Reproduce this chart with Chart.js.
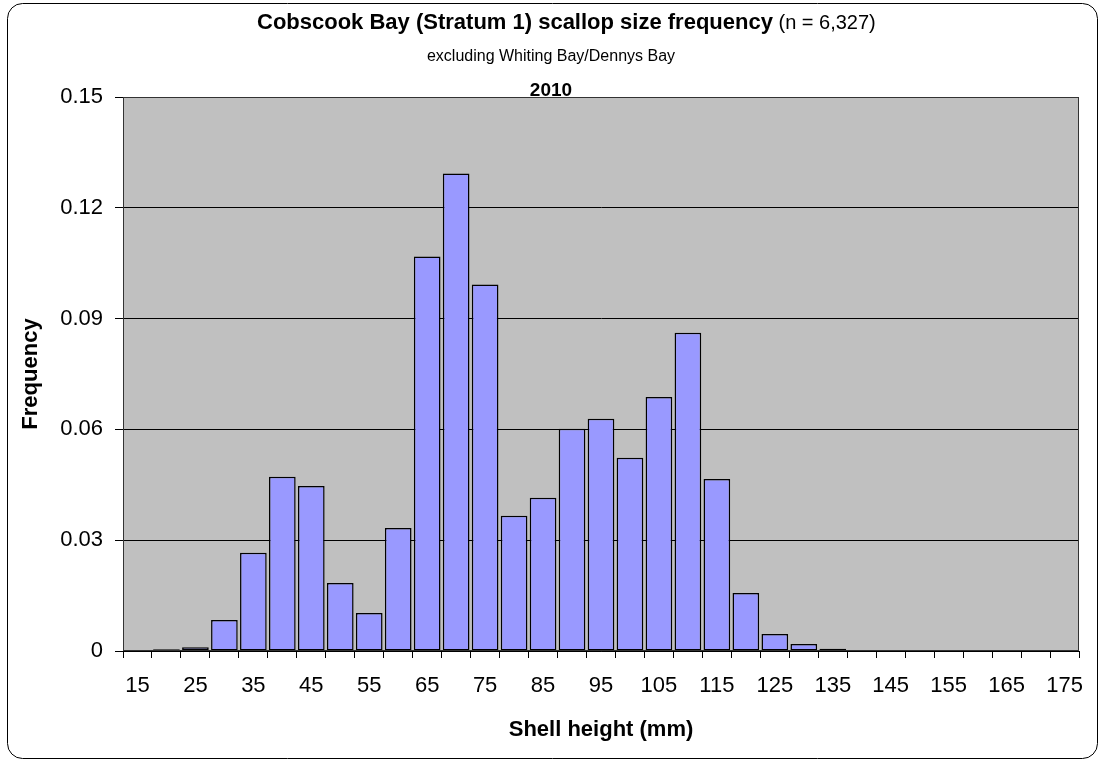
<!DOCTYPE html>
<html>
<head>
<meta charset="utf-8">
<script src="https://cdn.jsdelivr.net/npm/chart.js@4.4.1/dist/chart.umd.min.js"></script>
<style>
  html, body { margin: 0; padding: 0; background: #fff; }
  canvas { display: block; }
</style>
</head>
<body>
<canvas id="c" width="1102" height="763"></canvas>
<script>
// ---- data ----
const categories = ["15","20","25","30","35","40","45","50","55","60","65","70","75","80","85","90","95","100","105","110","115","120","125","130","135","140","145","150","155","160","165","170","175"];
const frequency = [0, 0.0005, 0.001, 0.0084, 0.0266, 0.0472, 0.0447, 0.0184, 0.0103, 0.0333, 0.1068, 0.1293, 0.0992, 0.0366, 0.0415, 0.0602, 0.0629, 0.0523, 0.0688, 0.0862, 0.0466, 0.0157, 0.0046, 0.0019, 0.0006, 0, 0, 0, 0, 0, 0, 0, 0];
const yTicks = [0, 0.03, 0.06, 0.09, 0.12, 0.15];
const titleBold = "Cobscook Bay (Stratum 1) scallop size frequency";
const titleNormal = " (n = 6,327)";
const subtitle = "excluding Whiting Bay/Dennys Bay";
const yearLabel = "2010";

const FONT = "Arial, 'Liberation Sans', Helvetica, sans-serif";

const framePlugin = {
  id: 'frame',
  beforeDraw(chart) {
    const ctx = chart.ctx;
    const a = chart.chartArea;
    ctx.save();
    ctx.fillStyle = '#fff';
    ctx.fillRect(0, 0, chart.width, chart.height);
    ctx.beginPath();
    ctx.roundRect(7.5, 3.5, 1090, 755, 15);
    ctx.strokeStyle = '#000';
    ctx.lineWidth = 1;
    ctx.stroke();
    ctx.fillStyle = '#C0C0C0';
    ctx.fillRect(a.left, a.top, a.right - a.left, a.bottom - a.top);
    ctx.restore();
  },
  afterDatasetsDraw(chart) {
    const ctx = chart.ctx;
    const a = chart.chartArea;
    ctx.save();
    ctx.strokeStyle = '#333';
    ctx.lineWidth = 1;
    ctx.strokeRect(Math.round(a.left) + 0.5, Math.round(a.top) + 0.5, Math.round(a.right - a.left) - 1, Math.round(a.bottom - a.top) - 1);
    ctx.restore();
  },
  afterDraw(chart) {
    const ctx = chart.ctx;
    ctx.save();
    ctx.fillStyle = '#000';
    ctx.textBaseline = 'alphabetic';
    ctx.textAlign = 'left';
    ctx.font = "bold 22px " + FONT;
    const wb = ctx.measureText(titleBold).width;
    const x0 = 257;
    ctx.fillText(titleBold, x0, 29);
    ctx.font = "20px " + FONT;
    ctx.fillText(titleNormal, x0 + wb, 29);
    ctx.textAlign = 'center';
    ctx.font = "16px " + FONT;
    ctx.fillText(subtitle, 551, 61);
    ctx.font = "bold 19px " + FONT;
    ctx.fillText(yearLabel, 551, 96);
    ctx.restore();
  }
};

new Chart(document.getElementById('c'), {
  type: 'bar',
  data: {
    labels: categories,
    datasets: [{
      label: 'Frequency',
      data: frequency,
      backgroundColor: '#9999FF',
      borderColor: '#000',
      borderWidth: 1.5,
      borderSkipped: false,
      barPercentage: 0.92,
      categoryPercentage: 1.0
    }]
  },
  options: {
    responsive: false,
    devicePixelRatio: 1,
    animation: false,
    layout: { padding: { left: 0, right: 23, top: 97, bottom: 0 } },
    plugins: {
      legend: { display: false },
      title: { display: false },
      tooltip: { enabled: false }
    },
    scales: {
      x: {
        type: 'category',
        offset: true,
        grid: { display: true, drawOnChartArea: false, drawTicks: true, tickLength: 7, color: '#000', offset: true },
        border: { display: true, color: '#000' },
        ticks: {
          autoSkip: false,
          maxRotation: 0,
          minRotation: 0,
          padding: 15,
          color: '#000',
          font: { family: FONT, size: 22 },
          callback: function(v, i) { return i % 2 === 0 ? categories[i] : ''; }
        },
        title: {
          display: true,
          text: 'Shell height (mm)',
          color: '#000',
          font: { family: FONT, size: 22, weight: 'bold' },
          padding: { top: 0, bottom: 20 }
        },
        afterFit: function(s) { s.height = 112; }
      },
      y: {
        min: 0,
        max: 0.15,
        afterBuildTicks: function(s) { s.ticks = yTicks.map(v => ({ value: v })); },
        grid: { color: '#000', lineWidth: 1, tickLength: 8, drawTicks: true },
        border: { display: true, color: '#000' },
        ticks: {
          padding: 12,
          color: '#000',
          font: { family: FONT, size: 22 },
          callback: function(v) { return v === 0 ? '0' : v.toFixed(2); }
        },
        title: {
          display: true,
          text: 'Frequency',
          color: '#000',
          font: { family: FONT, size: 22, weight: 'bold' },
          padding: { top: 18, bottom: 0 }
        },
        afterFit: function(s) { s.width = 123; }
      }
    }
  },
  plugins: [framePlugin]
});
</script>
</body>
</html>
